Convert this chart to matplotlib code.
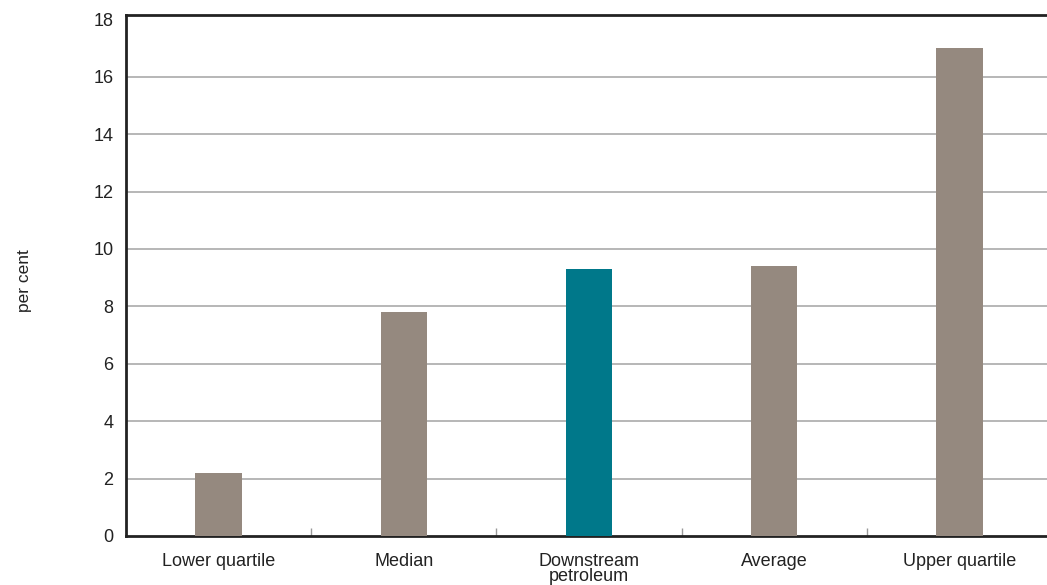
import numpy as np
import matplotlib.pyplot as plt

categories = ['Lower quartile', 'Median', 'Downstream\npetroleum', 'Average', 'Upper quartile']
values = [2.2, 7.8, 9.3, 9.4, 17.0]
colors = ['#95897f', '#95897f', '#00788a', '#95897f', '#95897f']
yticks = [0, 2, 4, 6, 8, 10, 12, 14, 16, 18]

plt.rcParams['font.family'] = ['Liberation Sans', 'DejaVu Sans']

fig = plt.figure(figsize=(10.47, 5.85), dpi=100)
# axes run slightly past the right edge of the figure
ax = fig.add_axes([126/1047, 49/585, (1052-126)/1047, (536-15)/585])

x = np.arange(len(categories))
ax.bar(x, values, width=0.25, color=colors, zorder=3)

ax.set_xlim(-0.5, len(categories) - 0.5)
ax.set_ylim(0, 18.15)
ax.set_yticks(yticks)
# horizontal gridlines, none under the top frame
for y in yticks[1:-1]:
    ax.axhline(y, color='#aaaaaa', lw=1.2, zorder=0)
ax.tick_params(axis='y', length=0, pad=9, labelsize=13, colors='#222222')

# category labels between the boundary tick marks
ax.set_xticks(x)
ax.set_xticklabels(categories, fontsize=13, color='#222222', linespacing=0.85)
ax.tick_params(axis='x', which='major', length=0, pad=12)
ax.set_xticks(x[:-1] + 0.5, minor=True)
ax.tick_params(axis='x', which='minor', direction='in', length=6, width=1, color='#999999')

for side in ['top', 'left', 'bottom']:
    ax.spines[side].set_linewidth(2)
    ax.spines[side].set_color('#222222')
ax.spines['right'].set_visible(False)

fig.text(25/1047, 1 - 281/585, 'per cent', rotation=90, va='center', ha='center',
         fontsize=12.5, color='#222222')

plt.savefig('out.png', dpi=100)
